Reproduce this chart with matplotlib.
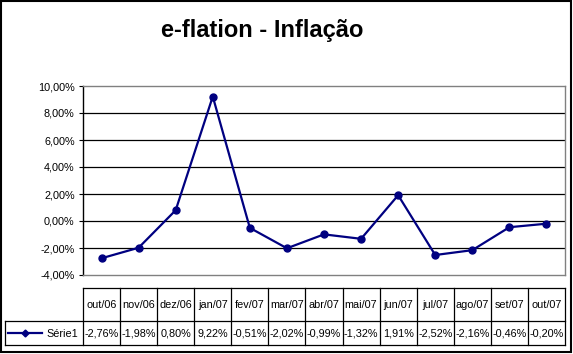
import matplotlib
matplotlib.use("Agg")
import matplotlib.pyplot as plt
from matplotlib.patches import Rectangle
from matplotlib.transforms import blended_transform_factory
import numpy as np

plt.rcParams['font.family'] = ['Liberation Sans', 'DejaVu Sans']

# data
months = ['out/06', 'nov/06', 'dez/06', 'jan/07', 'fev/07', 'mar/07', 'abr/07',
          'mai/07', 'jun/07', 'jul/07', 'ago/07', 'set/07', 'out/07']
serie1 = [-2.76, -1.98, 0.80, 9.22, -0.51, -2.02, -0.99, -1.32, 1.91, -2.52, -2.16, -0.46, -0.20]
yticks = [-4, -2, 0, 2, 4, 6, 8, 10]
title = 'e-flation - Inflação'
series_name = 'Série1'

W, H = 573, 354
navy = '#000080'
fs = 7.8

def pct(v):
    return ('%.2f%%' % v).replace('.', ',')

fig = plt.figure(figsize=(W / 100, H / 100), dpi=100)

# overlay axes in pixel coordinates (for frame, title, table)
ov = fig.add_axes([0, 0, 1, 1])
ov.set_xlim(0, W)
ov.set_ylim(H, 0)
ov.axis('off')

# plot area
L, R, T, B = 83, 565, 86, 275
ax = fig.add_axes([L / W, (H - B) / H, (R - L) / W, (B - T) / H])
x = np.arange(len(months))
ax.set_xlim(-0.5, len(months) - 0.5)
ax.set_ylim(-4, 10)
ax.set_yticks(yticks)
ax.set_yticklabels([pct(v) for v in yticks], fontsize=fs)
ax.set_xticks([])
ax.tick_params(axis='y', direction='out', length=3, width=0.8, pad=3)
for s in ['top', 'right', 'bottom']:
    ax.spines[s].set_color('#808080')
    ax.spines[s].set_linewidth(1)
ax.spines['left'].set_color('black')
ax.spines['left'].set_linewidth(1)
for v in yticks[1:-1]:
    ax.axhline(v, color='black', lw=0.9, zorder=1)

ax.plot(x, serie1, '-o', color=navy, lw=1.6, markersize=5, zorder=3)

# title
ov.text(262, 31, title, fontsize=17, fontweight='bold', ha='center', va='center')

# data table
tr = blended_transform_factory(ax.transData, ov.transData)
t_top, t_mid, t_bot = 288, 321, 345
lc = 'black'
lw = 0.9
edges = np.arange(len(months) + 1) - 0.5
ov.plot([L, R], [t_top, t_top], color=lc, lw=lw)
ov.plot([5, R], [t_mid, t_mid], color=lc, lw=lw)
ov.plot([5, R], [t_bot, t_bot], color=lc, lw=lw)
ov.plot([5, 5], [t_mid, t_bot], color=lc, lw=lw)
for e in edges:
    ov.plot([e, e], [t_top, t_bot], color=lc, lw=lw, transform=tr)
for xi, m, v in zip(x, months, serie1):
    ov.text(xi, (t_top + t_mid) / 2 + 1, m, fontsize=fs, ha='center', va='center', transform=tr)
    ov.text(xi, (t_mid + t_bot) / 2 + 1, pct(v), fontsize=fs, ha='center', va='center', transform=tr)

# legend key in the table
ym = (t_mid + t_bot) / 2
ov.plot([8, 42], [ym, ym], color=navy, lw=1.6)
ov.plot([25], [ym], 'D', color=navy, markersize=3.5)
ov.text(46, ym + 1, series_name, fontsize=fs, ha='left', va='center')

# outer frame
ov.add_patch(Rectangle((1, 1), W - 3, H - 3, fill=False, edgecolor='black', lw=1.5))

fig.savefig('out.png', dpi=100)
